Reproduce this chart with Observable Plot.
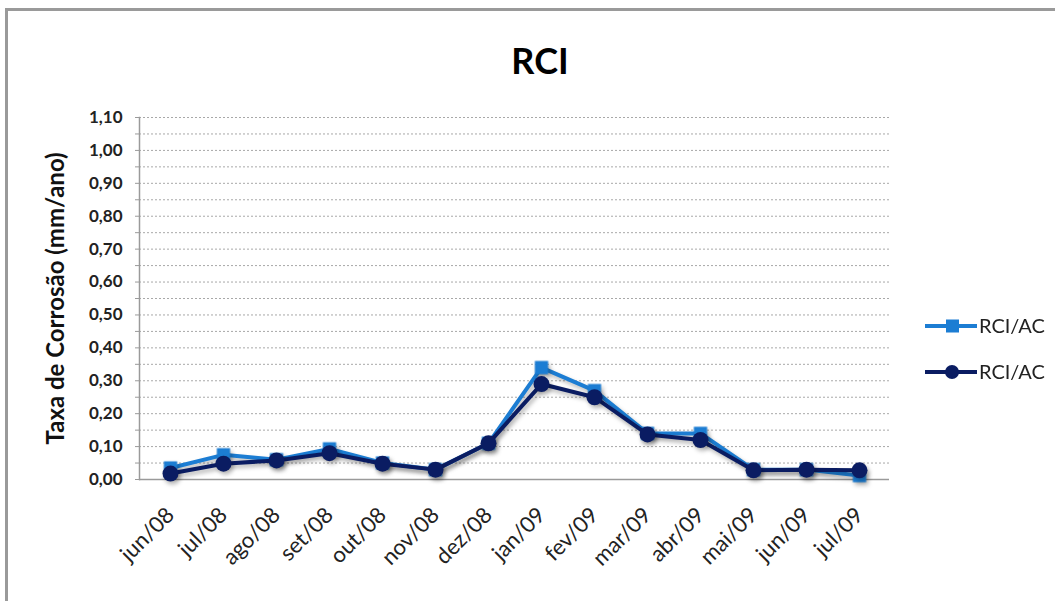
<!DOCTYPE html>
<html>
<head>
<meta charset="utf-8">
<script src="https://cdn.jsdelivr.net/npm/d3@7"></script>
<script src="https://cdn.jsdelivr.net/npm/@observablehq/plot@0.6"></script>
<style>
  html, body { margin: 0; padding: 0; background: #fff; }
  #wrap { position: relative; width: 1055px; height: 601px; overflow: hidden; font-family: Lato, "Open Sans", sans-serif; }
  #frame { position: absolute; left: 5px; top: 8px; width: 1100px; height: 700px; border-left: 3px solid #9a9a9a; border-top: 3px solid #9a9a9a; }
  #title { position: absolute; left: 440px; width: 200px; top: 42px; text-align: center; font-size: 36px; line-height: 1; font-weight: bold; color: #000; }
  #chart { position: absolute; left: 0; top: 0; }
  #chart g[aria-label="line"], #chart g[aria-label="dot"] { filter: drop-shadow(2px 3px 2px rgba(0,0,0,0.28)); }
  #legend { position: absolute; left: 0; top: 0; }
</style>
</head>
<body>
<div id="wrap">
  <div id="frame"></div>
  <div id="chart"></div>
  <div id="title">RCI</div>
  <div id="legend"></div>
</div>
<script>
const months = ["jun/08","jul/08","ago/08","set/08","out/08","nov/08","dez/08","jan/09","fev/09","mar/09","abr/09","mai/09","jun/09","jul/09"];
const seriesSquare = [0.035,0.075,0.06,0.093,0.05,0.03,0.11,0.34,0.27,0.14,0.14,0.03,0.03,0.012];
const seriesCircle = [0.018,0.048,0.058,0.08,0.048,0.03,0.11,0.29,0.25,0.137,0.12,0.028,0.03,0.028];
const seriesNames = ["RCI/AC","RCI/AC"];
const yTicks = [0,0.1,0.2,0.3,0.4,0.5,0.6,0.7,0.8,0.9,1.0,1.1];
const yMinor = [0.05,0.15,0.25,0.35,0.45,0.55,0.65,0.75,0.85,0.95,1.05];
const yLabel = "Taxa de Corrosão (mm/ano)";

const lightBlue = "#1c7dd3";
const navy = "#0a1c62";

const dataA = months.map((m, i) => ({month: m, value: seriesSquare[i]}));
const dataB = months.map((m, i) => ({month: m, value: seriesCircle[i]}));
const fmt = d => d.toFixed(2).replace(".", ",");

const chart = Plot.plot({
  width: 1055,
  height: 601,
  marginLeft: 139,
  marginRight: 166,
  marginTop: 117,
  marginBottom: 122,
  style: {fontFamily: "Lato, 'Open Sans', sans-serif", background: "transparent", color: "#222"},
  x: {type: "point", domain: months, padding: 0.5},
  y: {domain: [0, 1.1]},
  marks: [
    Plot.ruleY([...yTicks.slice(1), ...yMinor], {stroke: "#a8a8a8", strokeDasharray: "2,2", strokeWidth: 1}),
    Plot.ruleY([0], {stroke: "#9a9a9a", strokeWidth: 1.5}),
    Plot.frame({anchor: "left", stroke: "#9a9a9a", strokeWidth: 1.5}),
    Plot.axisY({ticks: [...yTicks, ...yMinor], tickSize: 4, text: null, label: null, stroke: "#9a9a9a"}),
    Plot.axisY({ticks: yTicks, tickFormat: fmt, tickSize: 0, tickPadding: 17, fontSize: 17, fontWeight: "bold", label: null, fill: "#222"}),
    Plot.axisX({tickRotate: -45, tickSize: 0, tickPadding: 32, fontSize: 22, label: null, fill: "#222"}),
    Plot.text([yLabel], {frameAnchor: "left", textAnchor: "middle", rotate: -90, dx: -83, fontSize: 24, fontWeight: "bold", fill: "#111"}),
    Plot.lineY(dataA, {x: "month", y: "value", stroke: lightBlue, strokeWidth: 4}),
    Plot.dot(dataA, {x: "month", y: "value", symbol: "square", r: 7.5, fill: lightBlue, stroke: "none"}),
    Plot.lineY(dataB, {x: "month", y: "value", stroke: navy, strokeWidth: 4}),
    Plot.dot(dataB, {x: "month", y: "value", symbol: "circle", r: 8, fill: navy, stroke: "none"})
  ]
});
document.getElementById("chart").appendChild(chart);

// Legend
const lg = d3.select("#legend").append("svg").attr("width", 1055).attr("height", 601)
  .style("font-family", "Lato, 'Open Sans', sans-serif");
const legendItems = [
  {name: seriesNames[0], color: lightBlue, sym: "square", y: 326},
  {name: seriesNames[1], color: navy, sym: "circle", y: 372}
];
legendItems.forEach(it => {
  lg.append("line").attr("x1", 925).attr("x2", 977).attr("y1", it.y).attr("y2", it.y)
    .attr("stroke", it.color).attr("stroke-width", 4);
  if (it.sym === "square") {
    lg.append("rect").attr("x", 946).attr("y", it.y - 6.5).attr("width", 13).attr("height", 13).attr("fill", it.color);
  } else {
    lg.append("circle").attr("cx", 952).attr("cy", it.y).attr("r", 7).attr("fill", it.color);
  }
  lg.append("text").attr("x", 979).attr("y", it.y).attr("dy", "0.35em")
    .attr("font-size", 20).attr("fill", "#222").text(it.name);
});
</script>
</body>
</html>
